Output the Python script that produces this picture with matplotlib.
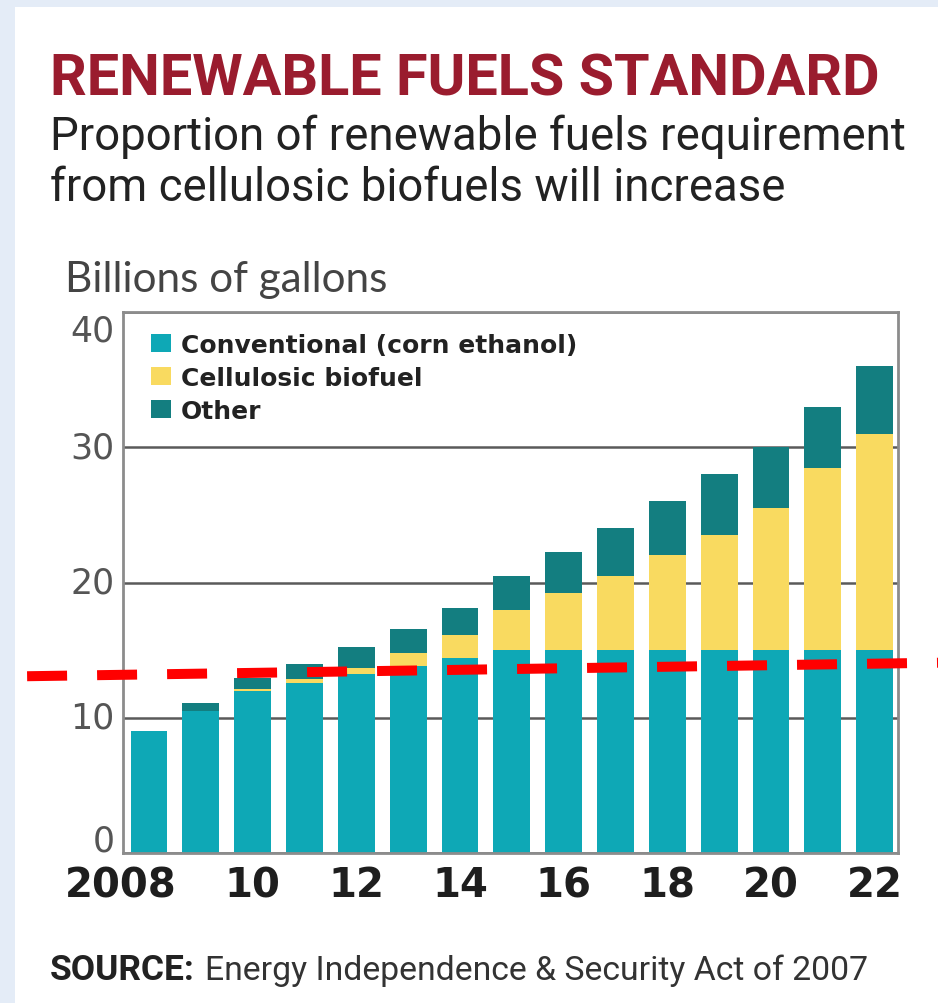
import numpy as np
import matplotlib
matplotlib.use("Agg")
import matplotlib.pyplot as plt
from matplotlib.patches import Rectangle
from matplotlib.transforms import ScaledTranslation

# Renewable fuel volumes by year, billions of gallons
years = np.arange(2008, 2023)
conventional = [9.0, 10.5, 12.0, 12.6, 13.2, 13.8, 14.4, 15.0, 15.0, 15.0, 15.0, 15.0, 15.0, 15.0, 15.0]
cellulosic = [0.0, 0.0, 0.1, 0.25, 0.5, 1.0, 1.75, 3.0, 4.25, 5.5, 7.0, 8.5, 10.5, 13.5, 16.0]
other = [0.0, 0.6, 0.85, 1.1, 1.5, 1.75, 2.0, 2.5, 3.0, 3.5, 4.0, 4.5, 4.5, 4.5, 5.0]
series_names = ["Conventional (corn ethanol)", "Cellulosic biofuel", "Other"]
x_tick_years = [2008, 2010, 2012, 2014, 2016, 2018, 2020, 2022]
x_tick_labels = ["2008", "10", "12", "14", "16", "18", "20", "22"]
y_ticks = [0, 10, 20, 30, 40]

# red dashed marker line (data coords), runs past the frame on both sides
marker_x = [2005.65, 2023.26]
marker_y = [13.07, 14.07]

W, H = 938, 1004
colors = ["#0EA8B6", "#F9DA60", "#137E80"]
NARROW = ["Roboto", "DejaVu Sans"]

fig = plt.figure(figsize=(W / 100, H / 100), dpi=100)
fig.patch.set_facecolor("#E4ECF7")
fig.add_artist(Rectangle((15 / W, 0), 1, 1 - 8 / H, transform=fig.transFigure,
                         facecolor="white", edgecolor="none", zorder=0))
renderer = fig.canvas.get_renderer()


def px(x, y):
    return x / W, 1 - y / H


def fitted_text(x, y, s, width, **kw):
    # place text at pixel (x, baseline y) and scale its size to span `width` pixels
    t = fig.text(*px(x, y), s, va="baseline", **kw)
    w = t.get_window_extent(renderer).width
    t.set_fontsize(t.get_fontsize() * width / w)
    return t


ax = fig.add_axes([123 / W, 1 - 854 / H, (898 - 123) / W, (854 - 313) / H])
ax.set_facecolor("white")

bottom = np.zeros(len(years))
for vals, name, c in zip([conventional, cellulosic, other], series_names, colors):
    ax.bar(years, vals, width=0.71, bottom=bottom, color=c, label=name, zorder=2)
    bottom += np.array(vals)

ax.set_xlim(2007.5, 2022.45)
ax.set_ylim(0, 40)
ax.set_yticks(y_ticks)
ax.set_xticks(x_tick_years)
ax.set_xticklabels(x_tick_labels, family="DejaVu Sans", fontweight="bold", fontsize=29,
                   color="#1e1e1e")
ax.set_yticklabels([str(v) for v in y_ticks], family="DejaVu Sans", fontsize=25,
                   color="#555555")
ax.tick_params(axis="both", length=0)
ax.tick_params(axis="x", pad=9)
ax.tick_params(axis="y", pad=6)
ylabs = ax.get_yticklabels()
for lab in ylabs:
    lab.set_verticalalignment("center")
# end labels tuck inside the frame: 0 sits on its line, 40 hangs below it
ylabs[0].set_verticalalignment("baseline")
ylabs[0].set_transform(ylabs[0].get_transform() + ScaledTranslation(0, 0.02, fig.dpi_scale_trans))
ylabs[-1].set_verticalalignment("top")
ylabs[-1].set_transform(ylabs[-1].get_transform() + ScaledTranslation(0, -0.02, fig.dpi_scale_trans))
# the full year label hangs to the left of its bar
first = ax.get_xticklabels()[0]
first.set_transform(first.get_transform() + ScaledTranslation(-0.28, 0, fig.dpi_scale_trans))
ax.yaxis.grid(True, color="#5a5a5a", linewidth=1.8, zorder=1)
ax.set_axisbelow(True)
for s in ax.spines.values():
    s.set_color("#8c8c8c")
    s.set_linewidth(2)

leg = ax.legend(loc="upper left", bbox_to_anchor=((151 - 123) / 775, (854 - 334) / 541),
                frameon=False, borderpad=0, borderaxespad=0,
                prop={"family": "DejaVu Sans", "weight": "bold", "size": 18},
                handlelength=0.8, handleheight=0.75, handletextpad=0.4, labelspacing=0.36)
for t in leg.get_texts():
    t.set_color("#222222")

ax.plot(marker_x, marker_y, color="#FF0000", linewidth=7.2, dashes=(4, 3),
        solid_capstyle="butt", dash_capstyle="butt", clip_on=False, zorder=5)

fitted_text(50, 95, "RENEWABLE FUELS STANDARD", 830, family=NARROW, fontweight="bold",
            fontsize=40, color="#9A1C2E")
fitted_text(50, 150, "Proportion of renewable fuels requirement", 855, family=NARROW,
            fontsize=30, color="#222222")
sub2 = fig.text(*px(50, 201), "from cellulosic biofuels will increase", family=NARROW,
                fontsize=30, color="#222222", va="baseline")
fitted_text(65, 292, "Billions of gallons", 323, family=["Lato", "DejaVu Sans"],
            fontsize=25, color="#444444")
fitted_text(50, 980, "SOURCE:", 145, family=NARROW, fontweight="bold", fontsize=21,
            color="#222222")
fitted_text(205, 980, "Energy Independence & Security Act of 2007", 663, family=NARROW,
            fontsize=21, color="#333333")

# second subtitle line shares the size of the first
sub2.set_fontsize(fig.texts[1].get_fontsize())

fig.savefig("out.png", dpi=100, facecolor=fig.get_facecolor())
